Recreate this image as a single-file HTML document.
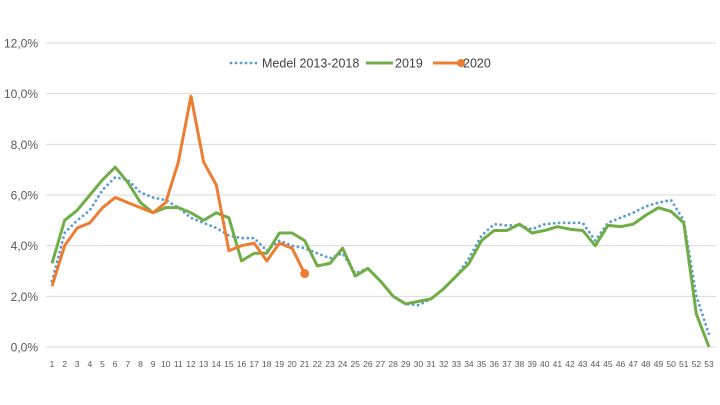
<!DOCTYPE html>
<html><head><meta charset="utf-8"><style>
html,body{margin:0;padding:0;background:#fff;}
svg{display:block;font-family:"Liberation Sans",sans-serif;}
</style></head><body>
<svg id="chart" width="720" height="405" viewBox="0 0 720 405" xmlns="http://www.w3.org/2000/svg">
<g id="grid"></g><g id="yticks"></g><g id="xticks"></g><g id="series"></g>
<g font-size="12.5" fill="#404040">
 <line x1="231" y1="63" x2="257" y2="63" stroke="#5b9bd5" stroke-width="2.8" stroke-dasharray="0,5" stroke-linecap="round"/>
 <text x="262" y="67.5">Medel 2013-2018</text>
 <line x1="366" y1="63" x2="393" y2="63" stroke="#70ad47" stroke-width="3"/>
 <text x="395" y="67.5">2019</text>
 <line x1="433" y1="63" x2="461" y2="63" stroke="#ed7d31" stroke-width="3"/>
 <circle cx="461" cy="63" r="4" fill="#ed7d31"/>
 <text x="463" y="67.5">2020</text>
</g>
</svg>
<script>
const weeks = Array.from({length:53},(_,i)=>i+1);
const yTicks = [0,2,4,6,8,10,12];
const medel = [2.6,4.5,5.0,5.4,6.2,6.7,6.6,6.1,5.9,5.8,5.5,5.1,4.9,4.7,4.4,4.3,4.3,3.8,4.2,4.0,3.9,3.7,3.5,3.7,2.9,3.1,2.6,2.0,1.7,1.65,1.9,2.3,2.8,3.5,4.4,4.85,4.8,4.8,4.65,4.85,4.9,4.9,4.9,4.2,4.9,5.1,5.3,5.55,5.7,5.8,5.0,2.0,0.5];
const y2019 = [3.3,5.0,5.4,6.0,6.6,7.1,6.5,5.7,5.3,5.5,5.5,5.3,5.0,5.3,5.1,3.4,3.7,3.7,4.5,4.5,4.2,3.2,3.3,3.9,2.8,3.1,2.6,2.0,1.7,1.8,1.9,2.3,2.8,3.3,4.2,4.6,4.6,4.85,4.5,4.6,4.75,4.65,4.6,4.0,4.8,4.75,4.85,5.2,5.5,5.35,4.9,1.3,0.0];
const y2020 = [2.4,4.0,4.7,4.9,5.5,5.9,5.7,5.5,5.3,5.7,7.3,9.9,7.3,6.4,3.8,4.0,4.1,3.4,4.1,3.9,2.9];
const NS='http://www.w3.org/2000/svg';
const X0=52,X1=709,Y0=347,Y12=43;
const xs=w=>X0+(w-1)*(X1-X0)/52;
const ys=v=>Y0-v*(Y0-Y12)/12;
function mk(tag,attrs,parent){const e=document.createElementNS(NS,tag);for(const k in attrs)e.setAttribute(k,attrs[k]);parent.appendChild(e);return e;}
const grid=document.getElementById('grid'),yt=document.getElementById('yticks'),xt=document.getElementById('xticks'),ser=document.getElementById('series');
yTicks.forEach(v=>{
 const l=mk('line',{x1:46,x2:716,y1:ys(v),y2:ys(v),stroke:'#d9d9d9','stroke-width':1},grid);
 
 
 const t=mk('text',{x:38,y:ys(v)+4.5,'text-anchor':'end','font-size':12,fill:'#595959'},yt);
 t.textContent=v.toFixed(1).replace('.',',')+'%';
 
 
});
weeks.forEach(w=>{
 const t=mk('text',{x:xs(w),y:367,'text-anchor':'middle','font-size':8.5,fill:'#595959'},xt);
 t.textContent=w;
 
 
});
function line(data,attrs,name){
 const p=mk('polyline',Object.assign({points:data.map((v,i)=>xs(i+1)+','+ys(v)).join(' '),fill:'none','stroke-linejoin':'round'},attrs),ser);
 
 
}
line(medel,{stroke:'#5b9bd5','stroke-width':2.8,'stroke-dasharray':'0,5','stroke-linecap':'round'},'series-medel-2013-2018');
line(y2019,{stroke:'#70ad47','stroke-width':3},'series-2019');
line(y2020,{stroke:'#ed7d31','stroke-width':3},'series-2020');
const last=y2020.length;
const c=mk('circle',{cx:xs(last),cy:ys(y2020[last-1]),r:4.5,fill:'#ed7d31'},ser);


</script>
</body></html>
